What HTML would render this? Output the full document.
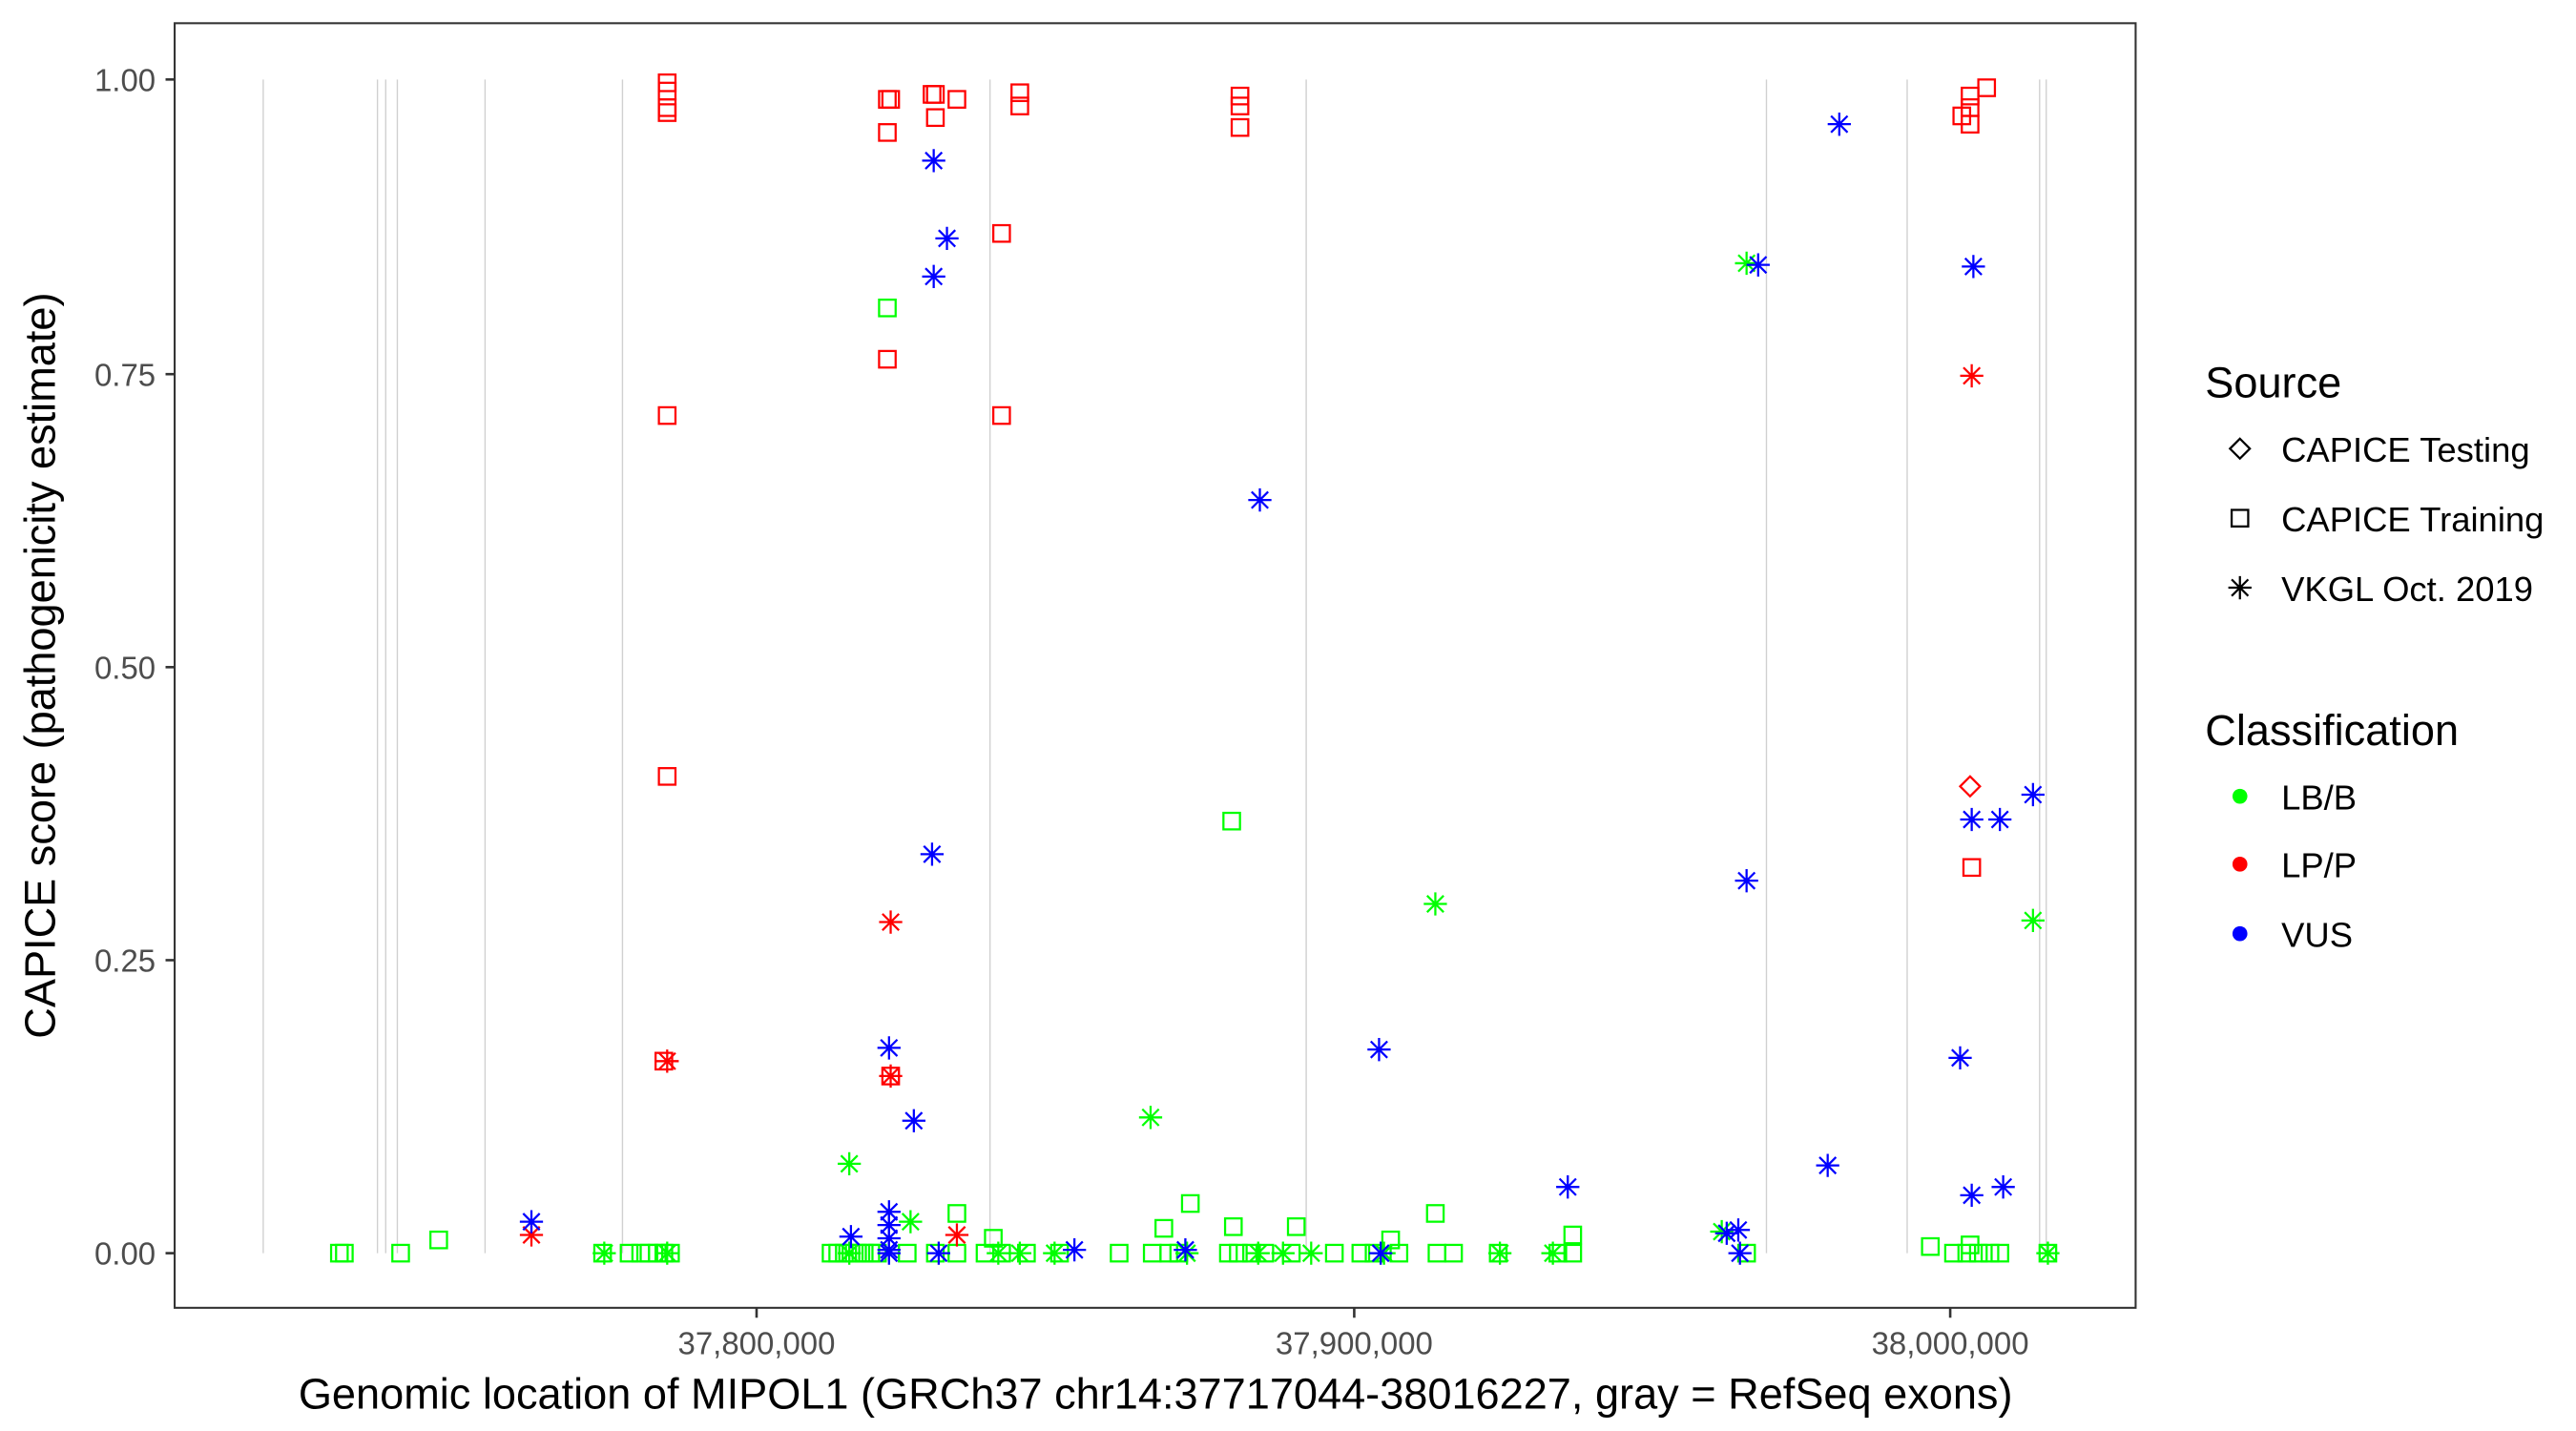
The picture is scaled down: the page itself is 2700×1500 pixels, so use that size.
<!DOCTYPE html>
<html><head><meta charset="utf-8"><style>html,body{margin:0;padding:0;background:#fff}svg{display:block}</style></head>
<body>
<svg id="s" width="2700" height="1500" viewBox="0 0 1556 864.4" xmlns="http://www.w3.org/2000/svg" font-family="Liberation Sans, Arial, sans-serif">
<rect width="1556" height="864.4" fill="#fff"/>
<g id="ex" stroke="#d0d0d0" stroke-width="0.8"></g>
<g id="pts" fill="none" stroke-width="1.3"></g>
<rect x="105.5" y="14" width="1184.5" height="776" fill="none" stroke="#333" stroke-width="1.2"/>
<g stroke="#333" stroke-width="1.5">
<line x1="100" x2="105.5" y1="48" y2="48"/><line x1="100" x2="105.5" y1="226" y2="226"/><line x1="100" x2="105.5" y1="403" y2="403"/><line x1="100" x2="105.5" y1="580" y2="580"/><line x1="100" x2="105.5" y1="757" y2="757"/>
<line x1="457" x2="457" y1="790" y2="796"/><line x1="818" x2="818" y1="790" y2="796"/><line x1="1178" x2="1178" y1="790" y2="796"/>
</g>
<g fill="#4d4d4d" font-size="19" text-anchor="end">
<text x="94" y="55">1.00</text><text x="94" y="233">0.75</text><text x="94" y="410">0.50</text><text x="94" y="587">0.25</text><text x="94" y="764">0.00</text>
</g>
<g fill="#4d4d4d" font-size="19" text-anchor="middle">
<text x="457" y="818">37,800,000</text><text x="818" y="818">37,900,000</text><text x="1178" y="818">38,000,000</text>
</g>
<text x="698" y="851" font-size="26" text-anchor="middle" fill="#000">Genomic location of MIPOL1 (GRCh37 chr14:37717044-38016227, gray = RefSeq exons)</text>
<text transform="translate(33,402) rotate(-90)" font-size="26" text-anchor="middle" fill="#000">CAPICE score (pathogenicity estimate)</text>
<text x="1332" y="240" font-size="26" fill="#000">Source</text>
<g font-size="21" fill="#000"><text x="1378" y="279">CAPICE Testing</text><text x="1378" y="321">CAPICE Training</text><text x="1378" y="363">VKGL Oct. 2019</text></g>
<text x="1332" y="450" font-size="26" fill="#000">Classification</text>
<g font-size="21" fill="#000"><text x="1378" y="489">LB/B</text><text x="1378" y="530">LP/P</text><text x="1378" y="572">VUS</text></g>
<g fill="none" stroke="#000" stroke-width="1.3">
<polygon points="1353,265 1359,271 1353,277 1347,271"/>
<rect x="1348" y="308" width="10" height="10"/>
<path d="M1353 348v14M1346 355h14M1348 350l10 10M1358 350l-10 10"/>
</g>
<circle cx="1353" cy="481" r="4.5" fill="#00ff00"/><circle cx="1353" cy="522" r="4.5" fill="#ff0000"/><circle cx="1353" cy="564" r="4.5" fill="#0000ff"/>
</svg>
<script>
const NS="http://www.w3.org/2000/svg";
const ex=document.getElementById('ex');
[159,228,233,240,293,376,598,789,1067,1152,1232,1236].forEach(x=>{const l=document.createElementNS(NS,'line');l.setAttribute('x1',x);l.setAttribute('x2',x);l.setAttribute('y1',48);l.setAttribute('y2',757);ex.appendChild(l);});
const g=document.getElementById('pts');
function sq(c,x,y){const r=document.createElementNS(NS,'rect');r.setAttribute('x',x-5);r.setAttribute('y',y-5);r.setAttribute('width',10);r.setAttribute('height',10);r.setAttribute('stroke',c);g.appendChild(r);}
function st(c,x,y){const p=document.createElementNS(NS,'path');p.setAttribute('d',`M${x} ${y-7}v14M${x-7} ${y}h14M${x-5} ${y-5}l10 10M${x+5} ${y-5}l-10 10`);p.setAttribute('stroke',c);g.appendChild(p);}
function dm(c,x,y){const p=document.createElementNS(NS,'polygon');p.setAttribute('points',`${x},${y-6} ${x+6},${y} ${x},${y+6} ${x-6},${y}`);p.setAttribute('stroke',c);g.appendChild(p);}
const G='#00ff00',R='#ff0000',B='#0000ff';
[[536,186],[744,496],[578,733],[719,727],[867,733],[703,742],[745,741],[783,741],[950,746],[600,748],[265,749],[840,749],[1166,753],[1190,752]].forEach(p=>sq(G,...p));
[205,208,242,364,380,387,392,397,401,405,502,506,510,514,518,522,526,530,548,565,578,595,605,620,640,676,696,706,712,742,748,756,764,780,806,822,830,845,868,878,905,941,950,1055,1180,1188,1195,1202,1208,1237].forEach(x=>sq(G,x,757));
[[1055,159],[867,546],[1228,556],[695,675],[513,703],[550,738],[1040,744]].forEach(p=>st(G,...p));
[365,403,513,603,616,637,717,760,775,792,836,906,938,1237].forEach(x=>st(G,x,757));
[[403,50],[403,55],[403,65],[403,68],[403,251],[403,469],[401,641],[536,60],[538,60],[536,80],[536,217],[538,650],[563,57],[565,57],[565,71],[578,60],[605,141],[605,251],[616,56],[616,64],[749,58],[749,64],[749,77],[1185,70],[1190,65],[1190,58],[1190,75],[1200,53],[1191,524]].forEach(p=>sq(R,...p));
dm(R,1190,475);
[[321,746],[403,641],[538,557],[538,650],[578,746],[1191,227]].forEach(p=>st(R,...p));
[[564,97],[572,144],[564,167],[761,302],[1111,75],[1062,160],[1192,161],[563,516],[1228,480],[1191,495],[1208,495],[1055,532],[537,633],[552,677],[833,634],[1184,639],[1104,704],[947,717],[1191,722],[1210,717],[321,738],[514,747],[537,732],[537,740],[537,748],[537,755],[537,757],[567,757],[649,755],[716,755],[834,757],[1043,745],[1050,743],[1051,757]].forEach(p=>st(B,...p));
</script>
</body></html>
